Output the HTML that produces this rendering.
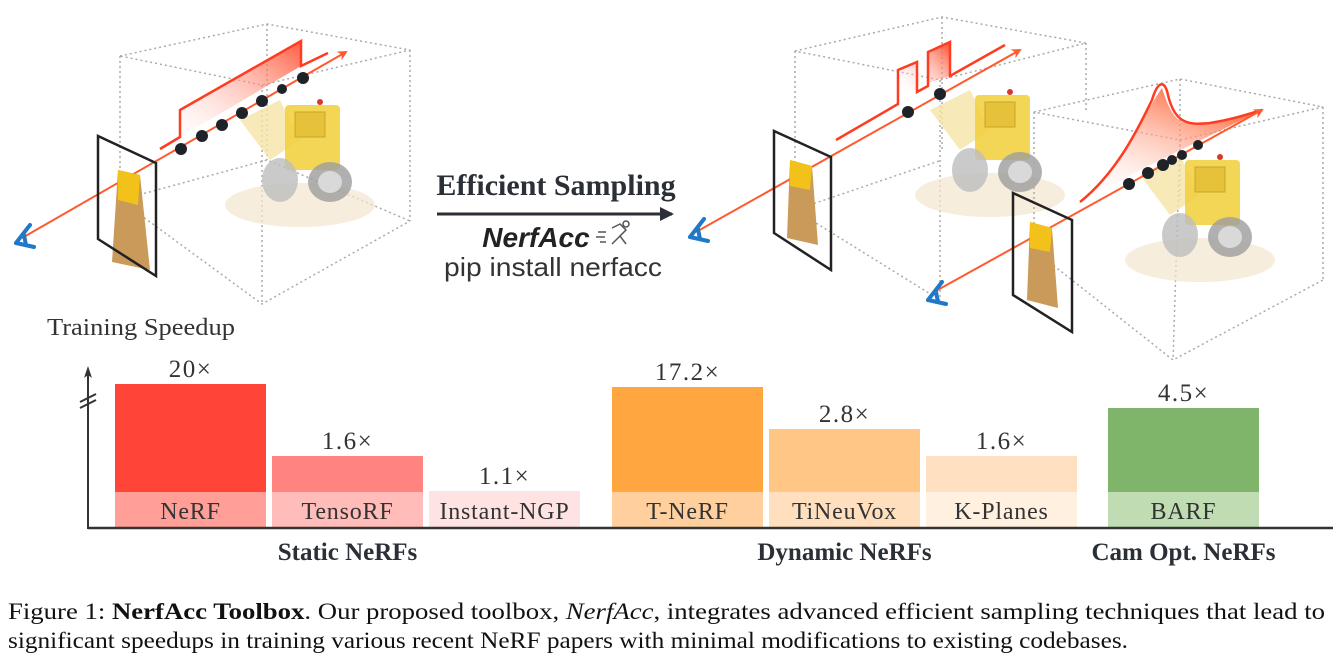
<!DOCTYPE html>
<html><head><meta charset="utf-8"><style>
html,body{margin:0;padding:0;background:#fff;}
svg{display:block;}
.serif{font-family:"Liberation Serif",serif;}
.sans{font-family:"Liberation Sans",sans-serif;}
</style></head><body>
<svg id="fig" width="1333" height="662" viewBox="0 0 1333 662" xmlns="http://www.w3.org/2000/svg">
<defs>
<linearGradient id="stepGrad" x1="0" y1="1" x2="1" y2="0"><stop offset="0" stop-color="#fff" stop-opacity="0"/><stop offset="1" stop-color="#ff4a2a"/></linearGradient>
<linearGradient id="peakGrad" x1="0" y1="1" x2="0.6" y2="0"><stop offset="0" stop-color="#fff" stop-opacity="0"/><stop offset="1" stop-color="#ff6a40"/></linearGradient>
<marker id="redHead" markerWidth="10" markerHeight="10" refX="8" refY="5" orient="auto" markerUnits="userSpaceOnUse"><path d="M0,0 L10,5 L0,10 L3,5 Z" fill="#ff5a2e"/></marker>
<marker id="darkHead" markerWidth="14" markerHeight="14" refX="12" refY="7" orient="auto" markerUnits="userSpaceOnUse"><path d="M0,0 L14,7 L0,14 Z" fill="#2b2f36"/></marker>
<g id="excavator">
<ellipse cx="0" cy="45" rx="75" ry="22" fill="#f3e6cf" opacity="0.7"/>
<path d="M-60,-40 L-20,-60 L0,-20 L-30,0 Z" fill="#f6e3a8" opacity="0.8"/>
<rect x="-15" y="-55" width="55" height="65" rx="4" fill="#f2cf3a" opacity="0.85"/>
<rect x="-5" y="-48" width="30" height="25" fill="#e6c23a" stroke="#c9a42a"/>
<circle cx="20" cy="-58" r="3" fill="#d83a2a"/>
<ellipse cx="-20" cy="20" rx="18" ry="22" fill="#bdbdbd" opacity="0.8"/>
<ellipse cx="30" cy="22" rx="22" ry="20" fill="#9c9c9c" opacity="0.8"/>
<ellipse cx="30" cy="22" rx="12" ry="11" fill="#d9d9d9"/>
</g>
<g id="eye"><path d="M0,0 L14,-18 M0,0 L18,4 M8,-8 L10,2" stroke="#1f78c8" stroke-width="4" fill="none" stroke-linecap="round"/></g>
</defs>

<!-- LEFT SCENE -->
<g>
<g stroke="#aaa" stroke-width="1.5" stroke-dasharray="2,3" fill="none">
<path d="M120,56 L267,24 L410,50 L262,85 Z"/>
<path d="M120,56 L120,200 M267,24 L267,160 M410,50 L410,221 M262,85 L262,304"/>
<path d="M120,200 L262,304 L410,221 M120,200 L267,160 L410,221"/>
</g>
<use href="#excavator" x="300" y="160"/>
<path d="M160,149 L180,137 L180,110 L301,41 L301,66 Z" fill="url(#stepGrad)" opacity="0.9"/>
<path d="M160,149 L180,137 L180,110 L301,41 L301,66 L328,53" stroke="#ff3b22" stroke-width="2.5" fill="none"/>
<line x1="22" y1="238" x2="346" y2="52" stroke="#ff5a2e" stroke-width="2" marker-end="url(#redHead)"/>
<g fill="#1e2229">
<circle cx="181" cy="149" r="6"/><circle cx="202" cy="136" r="6"/><circle cx="222" cy="125" r="6"/><circle cx="242" cy="113" r="6"/><circle cx="262" cy="101" r="6"/><circle cx="282" cy="89" r="5"/><circle cx="303" cy="78" r="6"/>
</g>
<path d="M118,170 L140,175 L150,270 L112,262 Z" fill="#c99a5a"/><path d="M118,170 L140,175 L138,205 L118,200 Z" fill="#f2c21a"/>
<path d="M98,136 L156,163 L156,276 L98,239 Z" fill="none" stroke="#222" stroke-width="2.5"/>
<use href="#eye" x="16" y="243"/>
</g>

<!-- MIDDLE -->
<text x="556" y="195" text-anchor="middle" class="serif" font-size="30" font-weight="bold" fill="#2b2f36">Efficient Sampling</text>
<line x1="437" y1="214" x2="672" y2="214" stroke="#2b2f36" stroke-width="3" marker-end="url(#darkHead)"/>
<text x="536" y="247" text-anchor="middle" class="sans" font-size="28" font-weight="bold" font-style="italic" fill="#222">NerfAcc</text>
<g stroke="#555" stroke-width="1.5" fill="none"><path d="M598,232 h8 M596,237 h9 M600,242 h6 M612,228 l8,-4 l6,6 l-6,6 l6,8 M620,236 l-8,8"/><circle cx="626" cy="224" r="3"/></g>
<text x="553" y="276" text-anchor="middle" class="sans" font-size="26" fill="#333" textLength="218" lengthAdjust="spacingAndGlyphs">pip install nerfacc</text>
<text x="47" y="335" class="serif" font-size="24" fill="#333" textLength="188" lengthAdjust="spacingAndGlyphs">Training Speedup</text>

<!-- RIGHT SCENE 1 -->
<g>
<g stroke="#aaa" stroke-width="1.5" stroke-dasharray="2,3" fill="none">
<path d="M795,51 L942,17 L1086,43 L940,80 Z"/>
<path d="M795,51 L795,210 M942,17 L942,150 M1086,43 L1086,110 M940,80 L940,300"/>
<path d="M795,210 L940,300 M795,210 L942,160"/>
</g>
<use href="#excavator" x="990" y="150"/>
<path d="M898,94 L898,70 L917,62 L917,90 Z M928,83 L928,52 L950,42 L950,76 Z" fill="url(#stepGrad)"/>
<path d="M836,140 L898,104 L898,70 L917,62 L917,92 L928,86 L928,52 L950,42 L950,76 L1005,45" stroke="#ff3b22" stroke-width="2.5" fill="none"/>
<line x1="696" y1="232" x2="1020" y2="50" stroke="#ff5a2e" stroke-width="2" marker-end="url(#redHead)"/>
<circle cx="908" cy="112" r="6" fill="#1e2229"/><circle cx="940" cy="94" r="6" fill="#1e2229"/>
<path d="M790,160 L812,166 L818,245 L787,238 Z" fill="#c99a5a"/><path d="M790,160 L812,166 L810,190 L790,186 Z" fill="#f2c21a"/>
<path d="M774,131 L831,157 L831,270 L774,233 Z" fill="none" stroke="#222" stroke-width="2.5"/>
<use href="#eye" x="690" y="237"/>
</g>

<!-- RIGHT SCENE 2 -->
<g>
<g stroke="#aaa" stroke-width="1.5" stroke-dasharray="2,3" fill="none">
<path d="M1034,112 L1180,79 L1323,107 L1180,140 Z"/>
<path d="M1034,112 L1034,250 M1180,79 L1180,200 M1323,107 L1323,280 M1180,140 L1173,360"/>
<path d="M1034,250 L1173,360 L1323,280"/>
</g>
<use href="#excavator" x="1200" y="215"/>
<path d="M1080,202 C1120,170 1140,120 1162,88 C1172,120 1180,125 1200,124 C1225,122 1240,118 1262,110 L1140,170 Z" fill="url(#peakGrad)"/>
<path d="M1080,202 C1120,170 1142,120 1152,100 C1158,80 1165,80 1168,95 C1175,125 1190,125 1210,123 C1230,120 1245,115 1262,110" stroke="#ff3b22" stroke-width="2.5" fill="none"/>
<line x1="934" y1="292" x2="1262" y2="110" stroke="#ff5a2e" stroke-width="2" marker-end="url(#redHead)"/>
<g fill="#1e2229"><circle cx="1129" cy="184" r="6"/><circle cx="1148" cy="173" r="6"/><circle cx="1163" cy="165" r="6"/><circle cx="1172" cy="160" r="5"/><circle cx="1182" cy="155" r="5"/><circle cx="1198" cy="145" r="5"/></g>
<path d="M1030,222 L1052,228 L1058,308 L1027,300 Z" fill="#c99a5a"/><path d="M1030,222 L1052,228 L1050,252 L1030,248 Z" fill="#f2c21a"/>
<path d="M1013,193 L1072,220 L1072,332 L1013,295 Z" fill="none" stroke="#222" stroke-width="2.5"/>
<use href="#eye" x="928" y="300"/>
</g>

<!-- CHART -->
<g id="chart"></g>

<!-- CAPTION -->
<text x="8" y="619" class="serif" font-size="23" fill="#111" textLength="1317" lengthAdjust="spacingAndGlyphs">Figure 1: <tspan font-weight="bold">NerfAcc Toolbox</tspan>. Our proposed toolbox, <tspan font-style="italic">NerfAcc</tspan>, integrates advanced efficient sampling techniques that lead to</text>
<text x="8" y="648" class="serif" font-size="23" fill="#111" textLength="1120" lengthAdjust="spacingAndGlyphs">significant speedups in training various recent NeRF papers with minimal modifications to existing codebases.</text>
</svg>
<script>
const categories = ["NeRF", "TensoRF", "Instant-NGP", "T-NeRF", "TiNeuVox", "K-Planes", "BARF"];
const speedups = [20, 1.6, 1.1, 17.2, 2.8, 1.6, 4.5];
const valueLabels = ["20×", "1.6×", "1.1×", "17.2×", "2.8×", "1.6×", "4.5×"];
const groupOf = [0, 0, 0, 1, 1, 1, 2];
const groupNames = ["Static NeRFs", "Dynamic NeRFs", "Cam Opt. NeRFs"];
const topColors = ["#ff4438", "#ff8480", "#ffe3e3", "#ffa640", "#ffc686", "#ffe1c2", "#7fb56a"];
const bandColors = ["#ff9f98", "#ffbcb9", "#ffe3e3", "#ffd09d", "#ffdfbe", "#fff0e0", "#c0dcb2"];

// broken (piecewise) y-axis: value -> bar height in px
const scaleDomain = [1, 1.6, 2.8, 4.5, 17.2, 20, 40];
const scaleRange = [30, 72, 99, 120, 141, 144, 150];
const BASE = 528, BAND = 36, BARW = 151, GAP = 6;
const groupStart = [115, 612, 1108];
function yScale(v) {
  for (let i = 0; i < scaleDomain.length - 1; i++) {
    if (v <= scaleDomain[i + 1]) {
      const t = (v - scaleDomain[i]) / (scaleDomain[i + 1] - scaleDomain[i]);
      return BASE - (scaleRange[i] + t * (scaleRange[i + 1] - scaleRange[i]));
    }
  }
  return BASE - scaleRange[scaleRange.length - 1];
}
function xPos(i) {
  const g = groupOf[i];
  let k = 0;
  for (let j = 0; j < i; j++) if (groupOf[j] === g) k++;
  return groupStart[g] + k * (BARW + GAP);
}
const NS = "http://www.w3.org/2000/svg";
const chart = document.getElementById("chart");
function mk(tag, attrs) {
  const e = document.createElementNS(NS, tag);
  for (const k in attrs) e.setAttribute(k, attrs[k]);
  chart.appendChild(e);
  return e;
}
categories.forEach((c, i) => {
  const x = xPos(i), top = yScale(speedups[i]);
  const bar = mk("rect", {x: x, y: top, width: BARW, height: Math.max(0, BASE - BAND - top), fill: topColors[i]});
  
  
  const bandTop = Math.max(top, BASE - BAND);
  const band = mk("rect", {x: x, y: bandTop, width: BARW, height: BASE - bandTop, fill: bandColors[i]});
  
  
  const name = mk("text", {x: x + BARW / 2, y: BASE - 9, "text-anchor": "middle", "font-size": 24, "letter-spacing": 0.8, fill: "#333", "font-family": "Liberation Serif, serif"});
  name.textContent = c;
  
  
  const val = mk("text", {x: x + BARW / 2, y: top - 7, "text-anchor": "middle", "font-size": 25, "letter-spacing": 1.5, fill: "#333", "font-family": "Liberation Serif, serif"});
  val.textContent = valueLabels[i];
  
  
});
groupNames.forEach((g, gi) => {
  let xs = [];
  categories.forEach((c, i) => { if (groupOf[i] === gi) xs.push(xPos(i)); });
  const cx = (Math.min(...xs) + Math.max(...xs) + BARW) / 2;
  const t = mk("text", {x: cx, y: 560, "text-anchor": "middle", "font-size": 25, "font-weight": "bold", fill: "#2b2f36", "font-family": "Liberation Serif, serif"});
  t.textContent = g;
  
  
});
const xAxis = mk("line", {x1: 88, y1: BASE, x2: 1333, y2: BASE, stroke: "#333", "stroke-width": 2.5});


const yAxis = mk("line", {x1: 88, y1: BASE + 1, x2: 88, y2: 372, stroke: "#333", "stroke-width": 2});


const arrow = mk("path", {d: "M88,366 L84,378 L88,375 L92,378 Z", fill: "#333"});


const brk = mk("path", {d: "M80,402 L96,394 M80,408 L96,400", stroke: "#333", "stroke-width": 2, fill: "none"});


</script>
</body></html>
